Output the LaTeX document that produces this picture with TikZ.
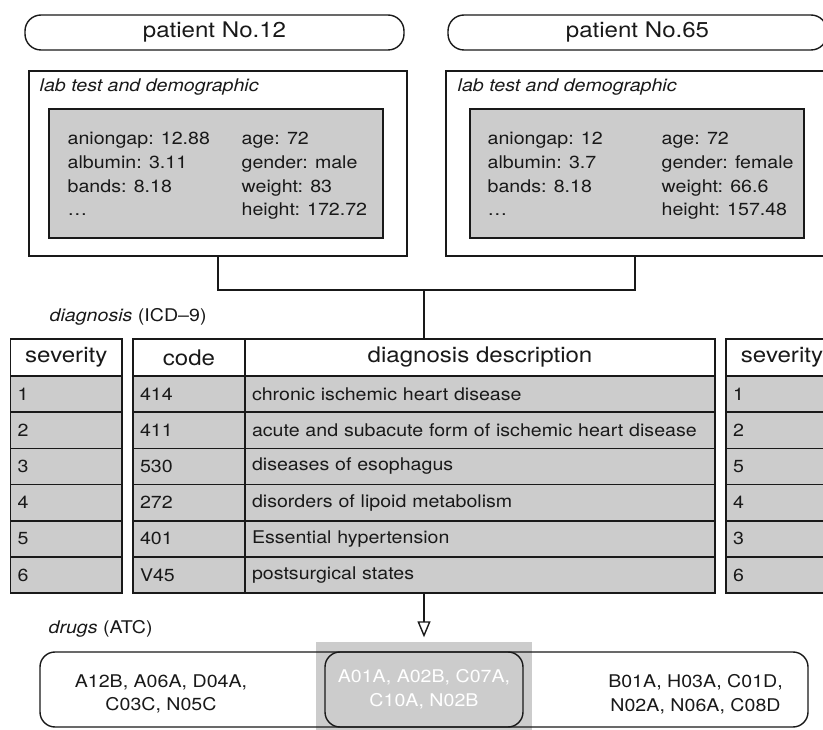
\documentclass[tikz,border=0pt]{standalone}
\usepackage{fontspec}
\setmainfont{TeX Gyre Heros}[FakeStretch=1.12]
\usepackage{xcolor}
\usepackage{tikz}
\usetikzlibrary{arrows.meta, positioning}
\definecolor{cellgray}{RGB}{204,204,204}
\definecolor{inkcolor}{RGB}{25,25,25}

\newcommand{\headfont}{\fontsize{21.5}{25}\selectfont}
\newcommand{\bodyfont}{\fontsize{17.5}{23.7}\selectfont}

\begin{document}
\begin{tikzpicture}[x=1pt, y=-1pt, inkcolor, line width=1.4pt,
    patientbox/.style={draw, rounded corners=16pt, minimum width=379pt, minimum height=35pt, inner sep=0pt, font=\headfont},
    labbox/.style={draw, line width=1.2pt, minimum width=378pt, minimum height=185pt},
    valbox/.style={draw, fill=cellgray, minimum width=334pt, minimum height=129pt},
    valtext/.style={anchor=north west, align=left, inner sep=0pt, font=\bodyfont},
    sectionlabel/.style={anchor=base west, inner sep=0pt, font=\bodyfont},
    headcell/.style={draw, line width=1.6pt, fill=white, minimum height=37pt, inner sep=0pt, font=\headfont},
    bodycell/.style={draw, line width=1.6pt, fill=cellgray, minimum height=36.2pt, inner ysep=0pt, inner xsep=7pt, align=left, font=\bodyfont},
    drugtext/.style={align=center, font=\bodyfont}]

    \useasboundingbox (0,0) rectangle (823,730);

    % patients
    \node[patientbox] (p12) at (214.5,32.5) {patient No.12};
    \node[patientbox] (p65) at (637.5,32.5) {patient No.65};

    % lab test and demographic
    \node[labbox] (lab12) at (218,163.5) {};
    \node[labbox] (lab65) at (635,163.5) {};
    \node[sectionlabel, font=\bodyfont\itshape] (title12) at (39,92) {lab test and demographic};
    \node[sectionlabel, font=\bodyfont\itshape] (title65) at (457,92) {lab test and demographic};

    \node[valbox] (val12) at (216,173.5) {};
    \node[valbox] (val65) at (637,173.5) {};
    \node[valtext] (lab12a) at (67,131.5) {aniongap: 12.88\\albumin: 3.11\\bands: 8.18\\\dots};
    \node[valtext] (lab12b) at (241,131.5) {age: 72\\gender: male\\weight: 83\\height: 172.72};
    \node[valtext] (lab65a) at (487,131.5) {aniongap: 12\\albumin: 3.7\\bands: 8.18\\\dots};
    \node[valtext] (lab65b) at (661,131.5) {age: 72\\gender: female\\weight: 66.6\\height: 157.48};

    \coordinate (junc) at (424,290);
    \draw (lab12.south) |- (junc) -| (lab65.south);

    % diagnosis (ICD-9)
    \node[sectionlabel] (dxlabel) at (49,322) {\textit{diagnosis} (ICD--9)};
    \node[headcell, minimum width=111.5pt] (sevLh) at (66.25,357.5) {severity};
    \node[headcell, minimum width=112pt] (codeh) at (189,357.5) {code};
    \node[headcell, minimum width=470pt] (desch) at (480,357.5) {diagnosis description};
    \node[headcell, minimum width=112pt] (sevRh) at (782,357.5) {severity};
    \foreach \i/\cod/\dsc/\svb in {1/414/chronic ischemic heart disease/1,
                                  2/411/acute and subacute form of ischemic heart disease/2,
                                  3/530/diseases of esophagus/5,
                                  4/272/disorders of lipoid metabolism/4,
                                  5/401/Essential hypertension/3,
                                  6/V45/postsurgical states/6} {
        \node[bodycell, text width=97.5pt] (sevL-\i) at (66.25,{376+36.2*(\i-0.5)}) {\i};
        \node[bodycell, text width=98pt] (code-\i) at (189,{376+36.2*(\i-0.5)}) {\cod};
        \node[bodycell, text width=456pt] (desc-\i) at (480,{376+36.2*(\i-0.5)}) {\dsc};
        \node[bodycell, text width=98pt] (sevR-\i) at (782,{376+36.2*(\i-0.5)}) {\svb};
    }
    \draw (junc) -- (junc |- desch.north);

    % drugs (ATC)
    \node[sectionlabel] (druglabel) at (48,633) {\textit{drugs} (ATC)};
    \node[fill=cellgray, minimum width=216pt, minimum height=88pt] (hilite) at (424,686) {};
    \node[draw, rounded corners=15pt, minimum width=768pt, minimum height=75pt] (drugs) at (424,689.5) {};
    \node[draw, rounded corners=15pt, minimum width=198pt, minimum height=75pt, drugtext, text=white] (shared) at (424,689.5) {A01A, A02B, C07A,\\C10A, N02B};
    \node[drugtext] (only12) at (161,694) {A12B, A06A, D04A,\\C03C, N05C};
    \node[drugtext] (only65) at (695.5,694) {B01A, H03A, C01D,\\N02A, N06A, C08D};
    \draw[-{Triangle[open, length=16pt, width=13pt]}, shorten >=4pt] (junc |- desc-6.south) -- (hilite.north);
\end{tikzpicture}
\end{document}
